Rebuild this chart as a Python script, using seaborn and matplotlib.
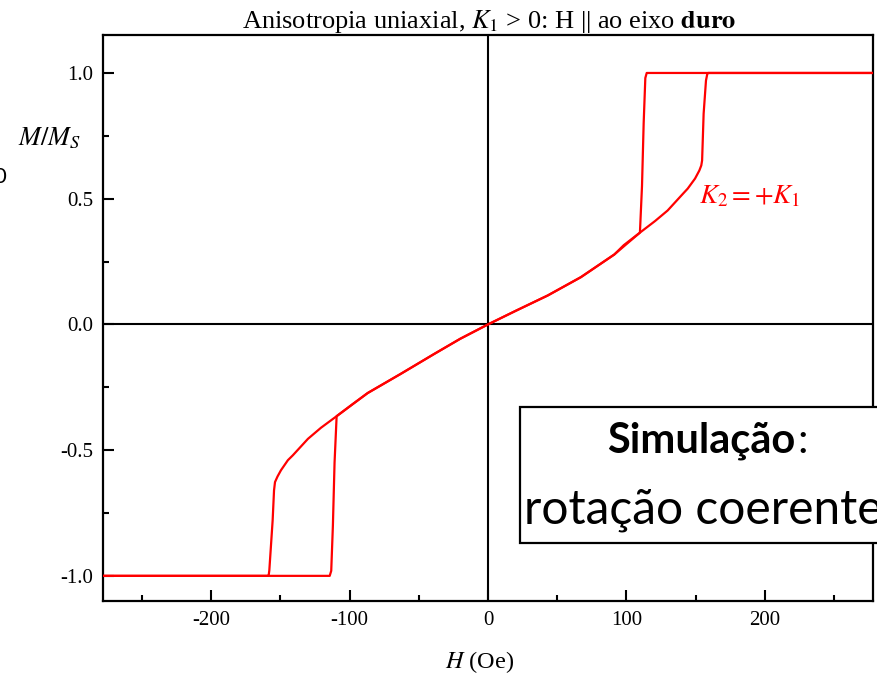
import matplotlib
matplotlib.use("Agg")
import matplotlib.pyplot as plt
from matplotlib.patches import Rectangle
from matplotlib.ticker import MultipleLocator, FormatStrFormatter
import numpy as np
import pandas as pd
import seaborn as sns

# Ascending branch (field swept from negative to positive saturation)
h_up = [-278, -114.3, -113.2, -112.0, -110.8, -109.3, -98.0, -86.9, -62.8, -38.7,
        -20.0, 0.0, 20.0, 43.1, 67.1, 91.2, 109.7, 120.6, 129.7, 141.0, 144.2,
        149.5, 152.6, 154.0, 154.6, 155.7, 157.4, 158.3, 159.0, 278]
m_up = [-1.0, -1.0, -0.98, -0.80, -0.55, -0.365, -0.318, -0.273, -0.196, -0.117,
        -0.057, 0.0, 0.054, 0.115, 0.188, 0.278, 0.365, 0.411, 0.453, 0.521, 0.54,
        0.58, 0.612, 0.632, 0.652, 0.838, 0.97, 0.995, 1.0, 1.0]

# Descending branch (field swept from positive to negative saturation)
h_down = [278, 114.6, 113.6, 112.4, 111.2, 109.7, 98.0, 91.2, 67.1, 43.1, 20.0, 0.0,
          -20.0, -38.7, -62.8, -86.9, -109.3, -120.6, -130.0, -141.0, -144.5,
          -149.5, -152.0, -153.8, -154.5, -155.5, -157.9, -158.3, -158.6, -278]
m_down = [1.0, 1.0, 0.98, 0.80, 0.55, 0.365, 0.315, 0.278, 0.188, 0.115, 0.054, 0.0,
          -0.057, -0.117, -0.196, -0.273, -0.365, -0.411, -0.455, -0.521, -0.54,
          -0.58, -0.605, -0.627, -0.66, -0.779, -0.978, -0.995, -1.0, -1.0]

x_major = [-200, -100, 0, 100, 200]
y_major = [-1.0, -0.5, 0.0, 0.5, 1.0]

df = pd.DataFrame({
    "H": h_up + h_down,
    "M": m_up + m_down,
    "ramo": ["subida"] * len(h_up) + ["descida"] * len(h_down),
})

sns.set_theme(style="ticks")
plt.rcParams["font.family"] = ["Liberation Serif", "DejaVu Serif"]
plt.rcParams["mathtext.fontset"] = "stix"
plt.rcParams["axes.unicode_minus"] = False
for key in ("text.color", "axes.labelcolor", "xtick.color", "ytick.color",
            "axes.edgecolor"):
    plt.rcParams[key] = "black"

fig = plt.figure(figsize=(8.77, 6.74), dpi=100)
W, Hpx = 877, 674
ax = fig.add_axes([103 / W, 1 - 601 / Hpx, (873 - 103) / W, (601 - 35) / Hpx])

ax.axhline(0, color="black", lw=1.5, zorder=1)
ax.axvline(0, color="black", lw=1.5, zorder=1)

sns.lineplot(data=df, x="H", y="M", units="ramo", estimator=None, sort=False,
             color="#ff0000", lw=1.6, ax=ax, zorder=3)

ax.set_xlim(-278, 278)
ax.set_ylim(-1.1, 1.151)
ax.set_xticks(x_major)
ax.set_yticks(y_major)
ax.xaxis.set_minor_locator(MultipleLocator(50))
ax.yaxis.set_minor_locator(MultipleLocator(0.25))
ax.yaxis.set_major_formatter(FormatStrFormatter("%.1f"))
ax.tick_params(which="major", direction="in", length=8, width=1.5, labelsize=15,
               top=False, right=False, colors="black")
ax.tick_params(which="minor", direction="in", length=4, width=1.5,
               top=False, right=False, colors="black")
ax.tick_params(axis="x", pad=7)
ax.tick_params(axis="y", pad=7)
for s in ax.spines.values():
    s.set_linewidth(1.6)
    s.set_color("black")

ax.set_xlabel("")
ax.set_ylabel("")

fig.text(480 / W, 1 - 668 / Hpx, r"$H$ (Oe)", ha="center", va="baseline",
         fontsize=17.5)
fig.text(18 / W, 1 - 145 / Hpx, r"$M/M_S$", ha="left", va="baseline", fontsize=19)
fig.text(489 / W, 1 - 28 / Hpx,
         r"Anisotropia uniaxial, $K_1$ > 0: H || ao eixo $\mathbf{duro}$",
         ha="center", va="baseline", fontsize=19)

ax.text(152, 0.481, r"$K_2 = +K_1$", color="#ff0000", fontsize=19.5,
        ha="left", va="baseline")

# stray glyph at the left border
fig.text(-7 / W, 1 - 177 / Hpx, "0", ha="left", va="center", fontsize=16,
         family="Lato")

# annotation box
fig.add_artist(Rectangle((520 / W, 1 - 543 / Hpx), 0.6, (543 - 407) / Hpx,
                         transform=fig.transFigure, facecolor="white",
                         edgecolor="black", lw=1.6, zorder=10, clip_on=False))
fig.text(795 / W, 1 - 453 / Hpx, "Simulação", ha="right", va="baseline",
         fontsize=30, fontweight="bold", family="Lato", zorder=11)
fig.text(797 / W, 1 - 453 / Hpx, ":", ha="left", va="baseline",
         fontsize=30, family="Lato", zorder=11)
fig.text(524 / W, 1 - 524 / Hpx, "rotação coerente", ha="left", va="baseline",
         fontsize=34.5, family="Lato", zorder=11)

fig.savefig("out.png", dpi=100)
